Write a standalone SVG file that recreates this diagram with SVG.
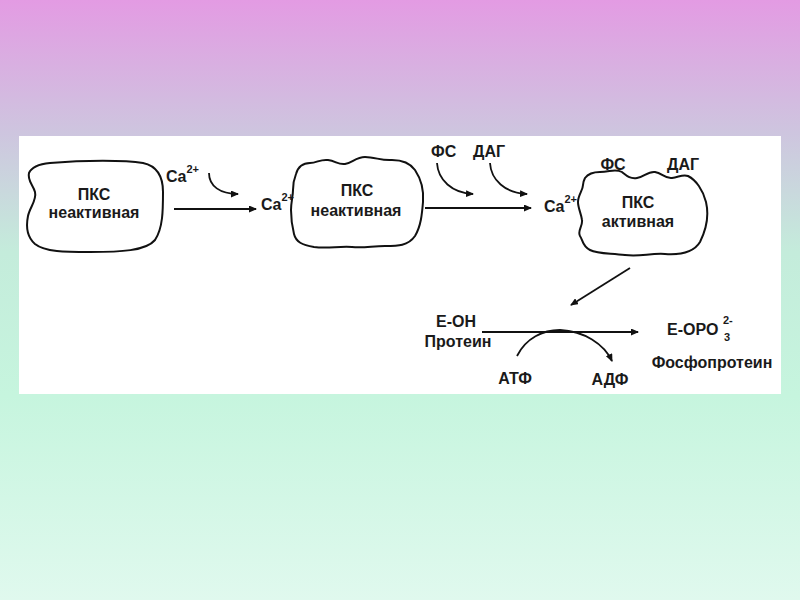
<svg xmlns="http://www.w3.org/2000/svg" width="800" height="600" viewBox="0 0 800 600">
<defs>
<linearGradient id="bg" x1="0" y1="0" x2="0" y2="1">
<stop offset="0" stop-color="#e39be3"/>
<stop offset="0.22" stop-color="#cec5df"/>
<stop offset="0.42" stop-color="#c4ecdb"/>
<stop offset="0.66" stop-color="#c6f5de"/>
<stop offset="1" stop-color="#e0f9ee"/>
</linearGradient>
<marker id="ah" markerUnits="userSpaceOnUse" markerWidth="8" markerHeight="7" refX="7" refY="3.5" orient="auto">
<path d="M0,0 L8,3.5 L0,7 Z" fill="#111"/>
</marker>
<style>
.t{font-family:"Liberation Sans",Arial,sans-serif;font-weight:bold;font-size:16px;fill:#1a1a1a}
.s{font-size:11px}
.blob{fill:none;stroke:#111;stroke-width:2}
.c{fill:none;stroke:#111;stroke-width:1.8}
</style>
</defs>
<rect width="800" height="600" fill="url(#bg)"/>
<rect x="19" y="136" width="762" height="258" fill="#fff"/>

<g id="pkc1">
<path class="blob" d="M50,163 C85,160 125,160 143,163 C157,166 163,176 163,192 C163,210 163,228 155,240 C146,251 120,252 90,252 C65,252 45,252 35,244 C27,237 26,226 28,216 C30,207 37,200 35,192 C33,185 27,180 29,173 C32,166 40,164 50,163 Z"/>
<text class="t" x="94" y="200" text-anchor="middle">ПКС</text>
<text class="t" x="94" y="218" text-anchor="middle">неактивная</text>
</g>

<g id="pkc2">
<path class="blob" d="M296,174 C298,167 303,163 310,163 C317,163 320,159 328,160 C336,161 338,165 345,164 C352,163 356,157 365,157 C375,157 382,161 392,160 C402,160 410,163 415,170 C421,179 424,190 423,202 C422,214 421,226 415,236 C408,246 398,246 385,246 C372,246 365,248 352,247 C338,246 328,249 314,247 C302,245 296,242 294,234 C292,226 291,218 291,210 C291,202 293,196 293,190 C293,184 294,179 296,174 Z"/>
<text class="t" x="357" y="196" text-anchor="middle">ПКС</text>
<text class="t" x="356" y="216" text-anchor="middle">неактивная</text>
</g>

<g id="pkc3">
<path class="blob" d="M585,178 C588,174 593,172 600,172 C610,172 615,168 622,172 C627,176 630,179 637,178 C644,177 648,171 655,172 C662,173 665,179 672,178 C679,177 683,174 688,176 C696,180 703,190 706,202 C709,215 706,230 700,242 C694,252 680,255 665,254 C650,253 640,257 625,255 C610,253 598,254 590,250 C582,246 583,240 580,236 C577,231 583,226 582,220 C581,213 578,208 578,202 C578,195 583,190 583,185 C583,182 584,180 585,178 Z"/>
<text class="t" x="638" y="208" text-anchor="middle">ПКС</text>
<text class="t" x="638" y="227" text-anchor="middle">активная</text>
<text class="t" x="613" y="170" text-anchor="middle">ФС</text>
<text class="t" x="683" y="170" text-anchor="middle">ДАГ</text>
</g>

<g id="labels">
<text class="t" x="166" y="182">Ca<tspan class="s" dy="-9">2+</tspan></text>
<text class="t" x="261" y="210">Ca<tspan class="s" dy="-9">2+</tspan></text>
<text class="t" x="431" y="157">ФС</text>
<text class="t" x="473" y="157">ДАГ</text>
<text class="t" x="544" y="212">Ca<tspan class="s" dy="-9">2+</tspan></text>
<text class="t" x="456" y="327" text-anchor="middle">E-OH</text>
<text class="t" x="458" y="347" text-anchor="middle">Протеин</text>
<text class="t" x="515" y="384" text-anchor="middle">АТФ</text>
<text class="t" x="610" y="385" text-anchor="middle">АДФ</text>
<text class="t" x="667" y="335">E-OPO</text>
<text class="t s" x="723" y="324">2-</text>
<text class="t s" x="724" y="341">3</text>
<text class="t" x="712" y="368" text-anchor="middle">Фосфопротеин</text>
</g>

<g id="connectors">
<line class="c" x1="174" y1="209" x2="256" y2="209" marker-end="url(#ah)"/>
<path class="c" d="M209,173 C209,186 220,194 238,194" marker-end="url(#ah)"/>
<line class="c" x1="425" y1="208" x2="531" y2="208" marker-end="url(#ah)"/>
<path class="c" d="M437,163 C438,180 452,193 473,194" marker-end="url(#ah)"/>
<path class="c" d="M490,163 C491,180 505,193 527,194" marker-end="url(#ah)"/>
<line class="c" x1="630" y1="268" x2="571" y2="305" marker-end="url(#ah)"/>
<line class="c" x1="482" y1="332" x2="638" y2="332" marker-end="url(#ah)"/>
<path class="c" d="M517,356 C526,338 543,330 560,330 C584,331 604,344 612,361" marker-end="url(#ah)"/>
</g>
</svg>
